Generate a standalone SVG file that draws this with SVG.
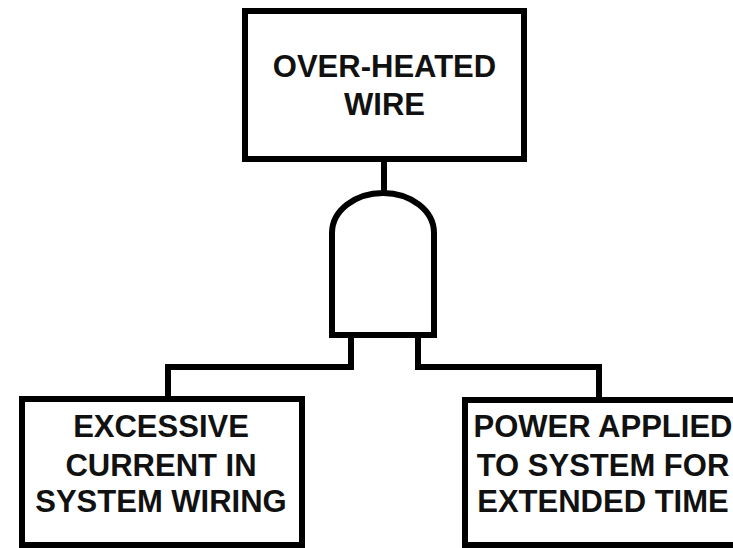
<svg xmlns="http://www.w3.org/2000/svg" width="733" height="548" viewBox="0 0 733 548">
<style>
.box{fill:#fff;stroke:#000;stroke-width:6}
.ln{fill:none;stroke:#000;stroke-width:6}
.gate{fill:#fff;stroke:#000;stroke-width:6;stroke-linejoin:miter}
text{font-family:"Liberation Sans",Arial,sans-serif;font-weight:bold;font-size:31px;fill:#111;text-anchor:middle}
</style>
<rect width="733" height="548" fill="#fff"/>
<g id="connectors">
<path class="ln" d="M384,159 V194"/>
<path class="ln" d="M351,335 V367 H168 V399"/>
<path class="ln" d="M418,335 V367 H599 V400"/>
</g>
<g id="top">
<rect class="box" x="245" y="11" width="279" height="148"/>
<text x="384.5" y="77">OVER-HEATED</text>
<text x="384.5" y="115">WIRE</text>
</g>
<g id="and-gate">
<path class="gate" d="M332,335 V233 A51,40 0 0 1 434,233 V335 Z"/>
</g>
<g id="left">
<rect class="box" x="22" y="399" width="280" height="146"/>
<text x="161" y="437">EXCESSIVE</text>
<text x="161" y="476">CURRENT IN</text>
<text x="161" y="512">SYSTEM WIRING</text>
</g>
<g id="right">
<rect class="box" x="465" y="400" width="280" height="145"/>
<text x="603" y="437">POWER APPLIED</text>
<text x="603" y="476">TO SYSTEM FOR</text>
<text x="603" y="512">EXTENDED TIME</text>
</g>
</svg>
